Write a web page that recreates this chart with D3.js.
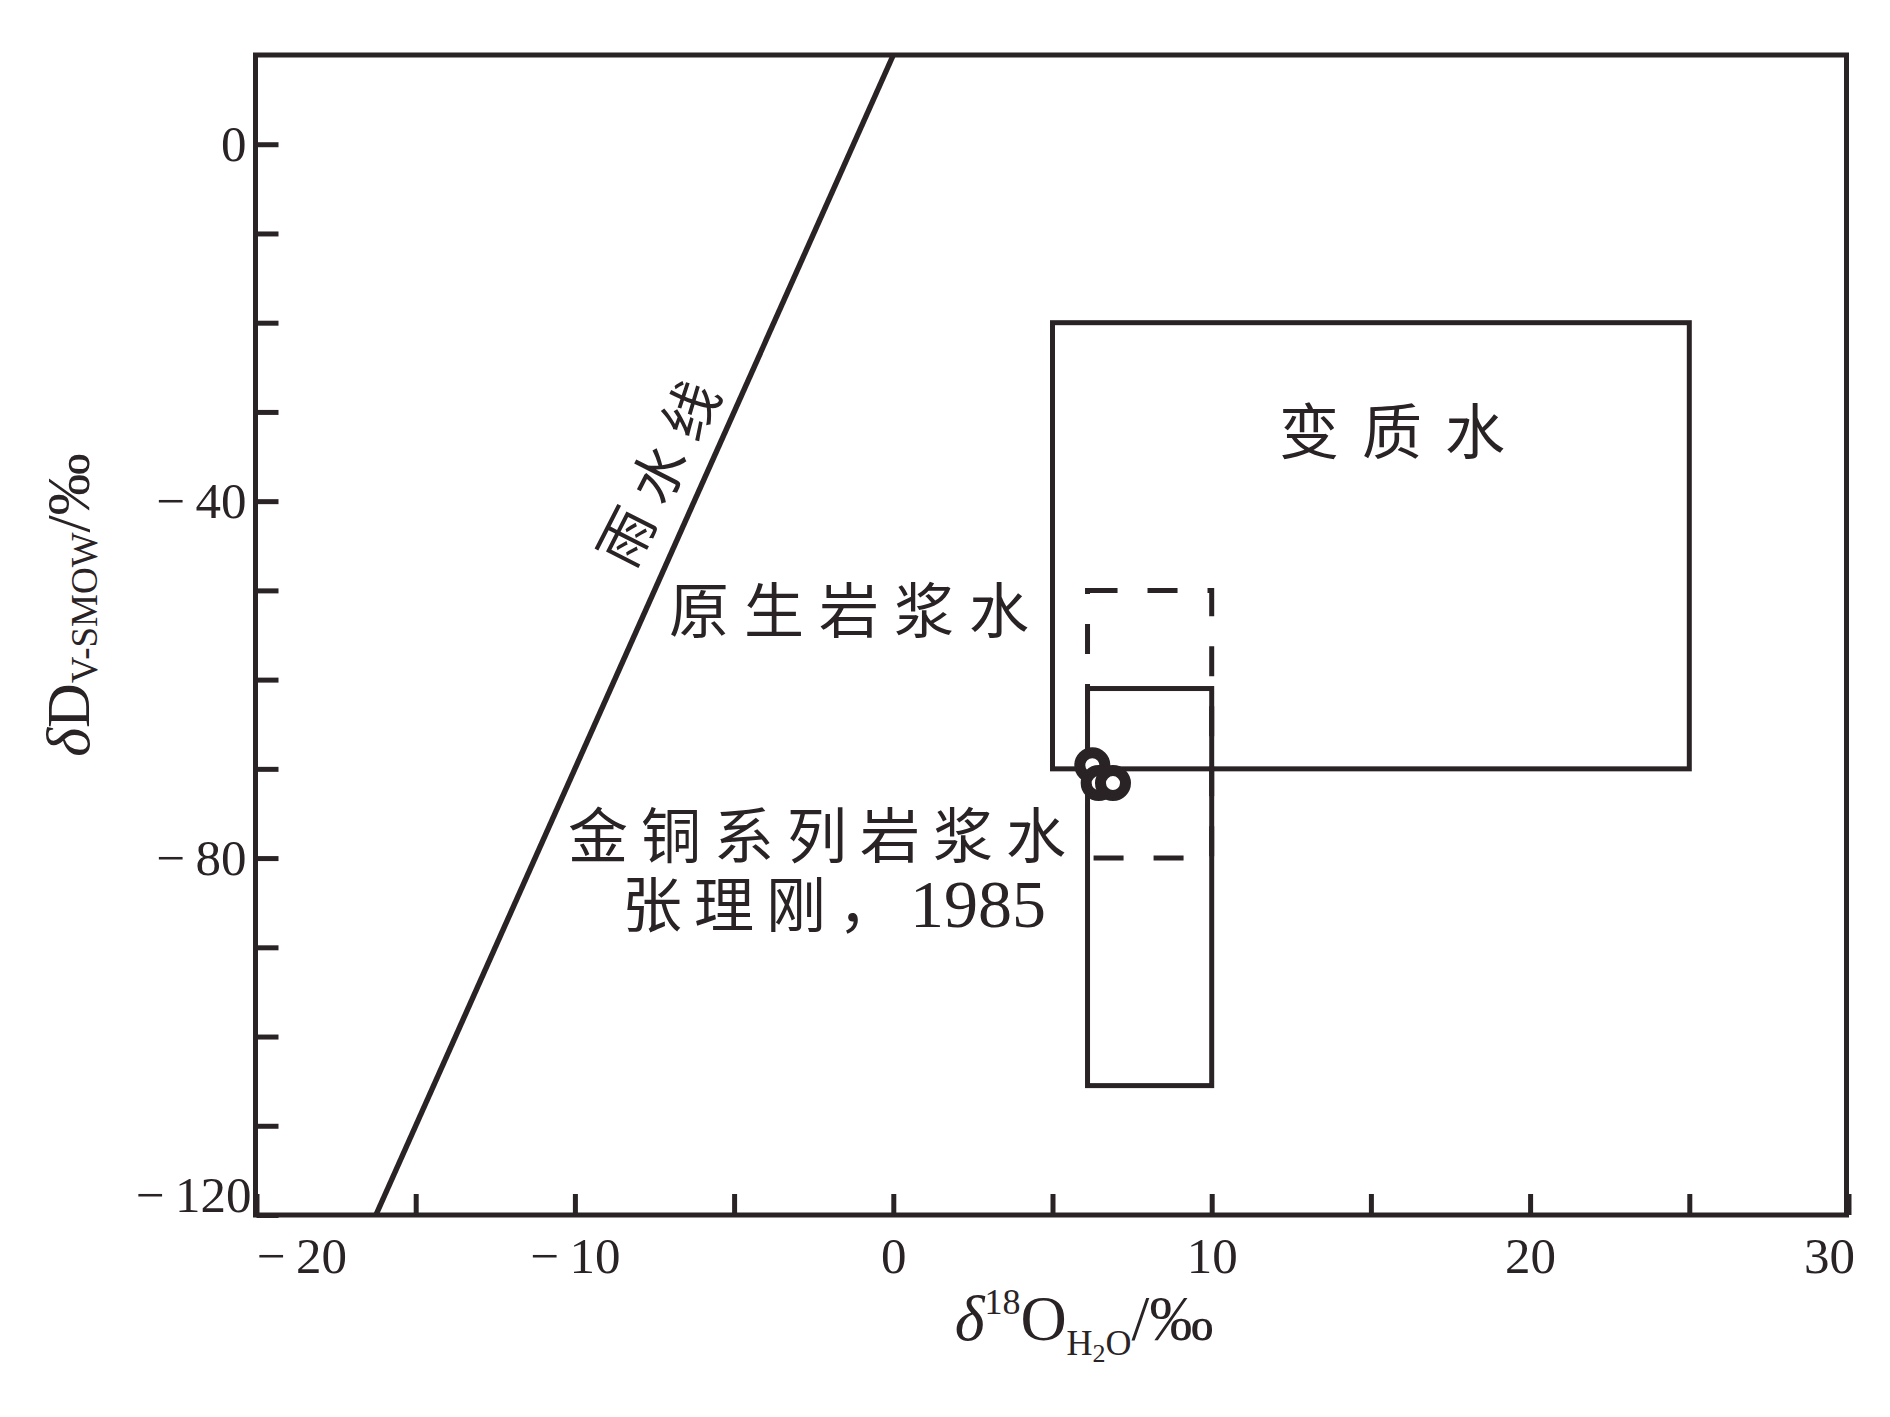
<!DOCTYPE html>
<html>
<head>
<meta charset="utf-8">
<script src="https://cdn.jsdelivr.net/npm/d3@7"></script>
<style>
  body { margin: 0; background: #fff; }
  svg { display: block; }
  .num { font-family: "Liberation Serif", "DejaVu Serif", serif; }
  .cjk { font-family: "Noto Sans CJK SC", sans-serif; }
</style>
</head>
<body>
<svg width="1890" height="1417"></svg>
<script>
// data
var xDomain = [-20, 30];
var yDomain = [-120, 10];
var xTickValues = [-20, -15, -10, -5, 0, 5, 10, 15, 20, 25, 30];
var xTickLabels = [-20, -10, 0, 10, 20, 30];
var yTickValues = [-120, -110, -100, -90, -80, -70, -60, -50, -40, -30, -20, -10, 0];
var yTickLabels = [-120, -80, -40, 0];

// meteoric water line (dD = 8 d18O + 10), end points
var mwlO = [-16.25, 0];
var mwlD = [-120, 10];

// fields
var fieldNames = ['变质水', '原生岩浆水', '金铜系列岩浆水'];
var fieldO1 = [5, 6.1, 6.1];
var fieldO2 = [25, 10, 10];
var fieldD1 = [-70, -80, -105.5];
var fieldD2 = [-20, -50, -61];

// samples
var sampleO = [6.25, 6.45, 6.9];
var sampleD = [-69.6, -71.6, -71.6];

function main() {
	var svg = d3.select('svg');
	var ink = '#2a2325';

	var x = d3.scaleLinear().domain(xDomain).range([256.5, 1848.5]);
	var y = d3.scaleLinear().domain(yDomain).range([1215, 55]);

	// axes, ticks pointing inside
	var fmt = function(d){ return d < 0 ? '\u2212\u2009' + Math.abs(d) : '' + d; };
	var gx = svg.append('g')
		.attr('transform', 'translate(0,' + y(yDomain[0]) + ')')
		.call(d3.axisBottom(x).tickValues(xTickValues).tickSize(-21).tickPadding(22)
			.tickFormat(function(d){ return xTickLabels.indexOf(d) >= 0 ? fmt(d) : ''; }));
	var gy = svg.append('g')
		.attr('transform', 'translate(' + x(xDomain[0]) + ',0)')
		.call(d3.axisLeft(y).tickValues(yTickValues).tickSize(-22).tickPadding(10)
			.tickFormat(function(d){ return yTickLabels.indexOf(d) >= 0 ? fmt(d) : ''; }));

	[gx, gy].forEach(function(g){
		g.select('.domain').remove();
		g.selectAll('.tick line').attr('stroke', ink).attr('stroke-width', 5);
		g.selectAll('.tick text')
			.attr('class', 'num')
			.attr('fill', ink)
			.style('font-size', '51px');
	});
	gx.selectAll('.tick text').attr('dy', '0.71em');
	gx.selectAll('.tick').filter(function(d){ return d === xDomain[0]; })
		.select('text').attr('text-anchor', 'start').attr('x', 0);
	gx.selectAll('.tick').filter(function(d){ return d === xDomain[1]; })
		.select('text').attr('text-anchor', 'end').attr('x', 6);
	gy.selectAll('.tick').filter(function(d){ return d === yDomain[0]; })
		.select('text').attr('y', -20).attr('x', -5);

	// meteoric water line
	var line = d3.line()
		.x(function(d){ return x(d[0]); })
		.y(function(d){ return y(d[1]); });
	svg.append('path')
		.datum(d3.zip(mwlO, mwlD))
		.attr('d', line)
		.attr('fill', 'none')
		.attr('stroke', ink)
		.attr('stroke-width', 5.5);

	// fields
	fieldNames.forEach(function(name, i){
		svg.append('rect')
			.attr('x', x(fieldO1[i]))
			.attr('y', y(fieldD2[i]))
			.attr('width', x(fieldO2[i]) - x(fieldO1[i]))
			.attr('height', y(fieldD1[i]) - y(fieldD2[i]))
			.attr('fill', 'none')
			.attr('stroke', ink)
			.attr('stroke-width', 5)
			.attr('stroke-dasharray', i == 1 ? '30,30' : null);
	});

	// samples
	svg.append('g').selectAll('circle')
		.data(d3.zip(sampleO, sampleD))
		.enter().append('circle')
		.attr('cx', function(d){ return x(d[0]); })
		.attr('cy', function(d){ return y(d[1]); })
		.attr('r', 12.5)
		.attr('fill', '#fff')
		.attr('stroke', ink)
		.attr('stroke-width', 11);

	// frame
	svg.append('rect')
		.attr('x', x(xDomain[0]) - 1)
		.attr('y', y(yDomain[1]))
		.attr('width', x(xDomain[1]) - x(xDomain[0]) - 1)
		.attr('height', y(yDomain[0]) - y(yDomain[1]))
		.attr('fill', 'none')
		.attr('stroke', ink)
		.attr('stroke-width', 5);

	// labels
	function cjk(txt, px, py, ls) {
		return svg.append('text')
			.attr('class', 'cjk')
			.attr('x', px).attr('y', py)
			.attr('fill', ink)
			.style('font-size', '60px')
			.style('letter-spacing', ls + 'px')
			.text(txt);
	}
	cjk(fieldNames[0], 1279, 454, 23);
	cjk(fieldNames[1], 669, 633, 15);
	cjk(fieldNames[2], 568, 858, 13);
	var ref = cjk('张理刚，', 622, 927, 12);
	ref.append('tspan').attr('class', 'num').style('font-size', '68px').style('letter-spacing', '0px').text('1985');

	svg.append('text')
		.attr('class', 'cjk')
		.attr('transform', 'translate(655,472) rotate(-63)')
		.attr('text-anchor', 'middle')
		.attr('dominant-baseline', 'central')
		.attr('dx', 8)
		.attr('fill', ink)
		.style('font-size', '56px')
		.style('letter-spacing', '15px')
		.text('雨水线');

	// axis titles
	var xt = svg.append('text')
		.attr('class', 'num')
		.attr('x', 1084).attr('y', 1340)
		.attr('text-anchor', 'middle')
		.attr('fill', ink)
		.style('font-size', '64px');
	xt.append('tspan').style('font-style', 'italic').text('δ');
	xt.append('tspan').attr('dy', -26).style('font-size', '36px').text('18');
	xt.append('tspan').attr('dy', 26).text('O');
	xt.append('tspan').attr('dy', 15).style('font-size', '36px').text('H');
	xt.append('tspan').attr('dy', 7).style('font-size', '26px').text('2');
	xt.append('tspan').attr('dy', -7).style('font-size', '36px').text('O');
	xt.append('tspan').attr('dy', -15).text('/‰');

	var yt = svg.append('text')
		.attr('class', 'num')
		.attr('transform', 'translate(89,605) rotate(-90)')
		.attr('text-anchor', 'middle')
		.attr('fill', ink)
		.style('font-size', '62px');
	yt.append('tspan').style('font-style', 'italic').text('δ');
	yt.append('tspan').text('D');
	yt.append('tspan').attr('dy', 8).style('font-size', '37px').text('V-SMOW');
	yt.append('tspan').attr('dy', -8).text('/‰');
}
main();
</script>
</body>
</html>
